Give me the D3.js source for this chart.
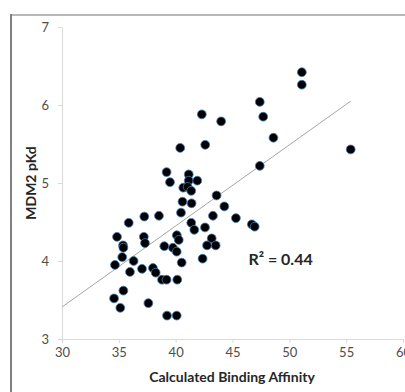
<!DOCTYPE html>
<html>
<head>
<meta charset="utf-8">
<script src="https://cdn.jsdelivr.net/npm/d3@7"></script>
<style>
  body { margin: 0; background: #fff; }
  text { font-family: Lato, "Open Sans", sans-serif; }
</style>
</head>
<body>
<div id="plot"></div>
<script>
// calculated binding affinity vs measured MDM2 pKd
const affinity = [51.1, 51.1, 47.4, 47.7, 42.3, 44.0, 48.6, 42.6, 40.4, 55.4,
  47.4, 39.2, 41.15, 39.5, 41.15, 41.9, 40.67, 41.05, 41.37, 43.6,
  40.6, 41.4, 44.28, 40.47, 43.28, 45.3, 37.24, 38.53, 35.87, 41.37,
  41.64, 42.58, 46.7, 46.95, 34.84, 37.2, 37.3, 40.1, 40.27, 43.17,
  35.37, 35.4, 39.0, 39.76, 40.09, 42.76, 43.52, 35.3, 36.3, 40.53,
  42.37, 34.66, 35.98, 37.04, 38.0, 38.24, 38.8, 39.2, 40.14, 35.4,
  34.58, 37.6, 35.13, 39.24, 40.09];
const pKd = [6.42, 6.26, 6.04, 5.85, 5.88, 5.79, 5.58, 5.49, 5.45, 5.43,
  5.22, 5.14, 5.11, 5.01, 5.03, 5.03, 4.94, 4.95, 4.90, 4.84,
  4.76, 4.74, 4.70, 4.62, 4.58, 4.55, 4.57, 4.58, 4.49, 4.49,
  4.40, 4.43, 4.47, 4.44, 4.31, 4.31, 4.23, 4.33, 4.27, 4.29,
  4.20, 4.17, 4.19, 4.17, 4.12, 4.20, 4.20, 4.05, 4.00, 3.98,
  4.03, 3.95, 3.86, 3.90, 3.91, 3.85, 3.76, 3.76, 3.76, 3.62,
  3.52, 3.46, 3.40, 3.30, 3.30];

const xTicks = [30, 35, 40, 45, 50, 55, 60];
const yTicks = [3, 4, 5, 6, 7];
// linear trendline endpoints (x, y)
const trendX = [30, 55.4];
const trendY = [3.41, 6.05];
const r2Label = "R² = 0.44";

const w = 405;
const h = 392;
const margin = {top: 27, right: 2, bottom: 53, left: 62};
const innerWidth = 403 - margin.left;
const innerHeight = h - margin.top - margin.bottom;

const svg = d3.select("div#plot")
    .append("svg")
    .attr("width", w)
    .attr("height", h);

// outer frame
svg.append("line")
    .attr("x1", 11).attr("x2", w).attr("y1", 15).attr("y2", 15)
    .attr("stroke", "#b8b8b8").attr("stroke-width", 2);
svg.append("line")
    .attr("x1", 11).attr("x2", 11).attr("y1", 14).attr("y2", h)
    .attr("stroke", "#808080").attr("stroke-width", 2);

const xScale = d3.scaleLinear()
    .domain([30, 60])
    .range([0, innerWidth]);

const yScale = d3.scaleLinear()
    .domain([3, 7])
    .range([innerHeight, 0]);

const g = svg.append("g")
    .attr("transform", `translate(${margin.left}, ${margin.top})`);

const xAxis = d3.axisBottom(xScale)
    .tickValues(xTicks)
    .tickFormat(d3.format("d"))
    .tickSize(4)
    .tickSizeOuter(0)
    .tickPadding(5);

const yAxis = d3.axisLeft(yScale)
    .tickValues(yTicks)
    .tickFormat(d3.format("d"))
    .tickSize(4)
    .tickSizeOuter(0)
    .tickPadding(9);

g.append("g")
    .attr("class", "xAxis")
    .attr("transform", `translate(0, ${innerHeight})`)
    .call(xAxis);

g.append("g")
    .attr("class", "yAxis")
    .call(yAxis);

g.selectAll(".domain, .tick line")
    .attr("stroke", "#d9d9d9");
g.selectAll(".tick text")
    .attr("fill", "#4d4d4d")
    .style("font-size", "13px")
    .style("font-family", "Lato, sans-serif");

// trendline
g.append("line")
    .attr("x1", xScale(trendX[0]))
    .attr("y1", yScale(trendY[0]))
    .attr("x2", xScale(trendX[1]))
    .attr("y2", yScale(trendY[1]))
    .attr("stroke", "#a6a6a6")
    .attr("stroke-width", 1);

g.selectAll("circle")
    .data(affinity)
  .enter().append("circle")
    .attr("cx", d => xScale(d))
    .attr("cy", (d, i) => yScale(pKd[i]))
    .attr("r", 4.4)
    .attr("fill", "#000")
    .attr("stroke", "#3d7ab8")
    .attr("stroke-width", 0.8);

g.append("text")
    .attr("x", xScale(46.4))
    .attr("y", yScale(3.95))
    .attr("text-anchor", "start")
    .attr("fill", "#262626")
    .style("font-size", "16px")
    .style("font-weight", "bold")
    .text(r2Label);

svg.append("text")
    .attr("x", 232)
    .attr("y", 382)
    .attr("text-anchor", "middle")
    .attr("fill", "#262626")
    .style("font-size", "14px")
    .style("font-weight", "bold")
    .text("Calculated Binding Affinity");

svg.append("text")
    .attr("transform", `translate(36, ${margin.top + yScale(5)}) rotate(-90)`)
    .attr("text-anchor", "middle")
    .attr("fill", "#262626")
    .style("font-size", "14px")
    .style("font-weight", "bold")
    .text("MDM2 pKd");
</script>
</body>
</html>
